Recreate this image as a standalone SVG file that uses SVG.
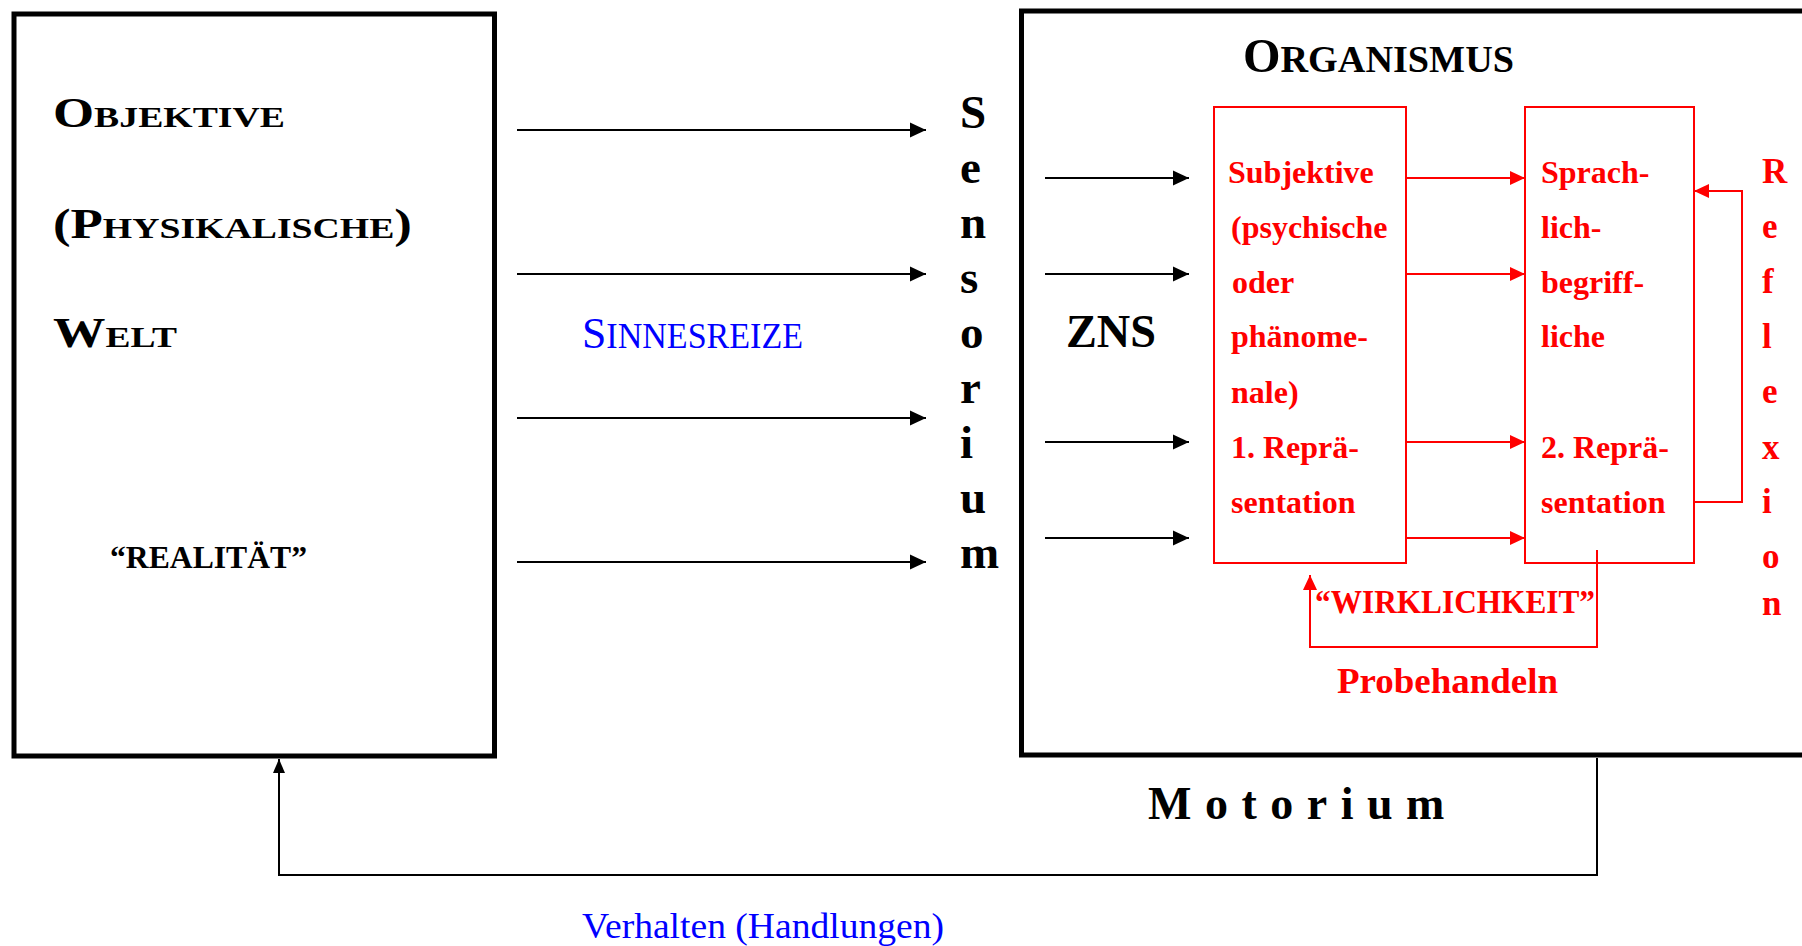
<svg xmlns="http://www.w3.org/2000/svg" width="1802" height="946" viewBox="0 0 1802 946">
<style>
text{font-family:"Liberation Serif","Times New Roman",serif;}
.b{font-weight:bold;}
.blk{fill:#000;}
.red{fill:#ff0000;}
.blue{fill:#0000ff;}
.frame{fill:none;stroke:#000;stroke-width:5;}
.rbox{fill:none;stroke:#ff0000;stroke-width:2;}
.la{fill:none;stroke:#000;stroke-width:2;}
.ra{fill:none;stroke:#ff0000;stroke-width:2;}
.rt{font-size:32px;font-weight:bold;fill:#ff0000;}
.sens{font-size:47px;font-weight:bold;fill:#000;}
.refl{font-size:35px;font-weight:bold;fill:#ff0000;}
</style>
<defs>
<marker id="ab" markerUnits="userSpaceOnUse" markerWidth="16" markerHeight="16" refX="16" refY="8" orient="auto"><path d="M0,0.5 L16,8 L0,15.5 z" fill="#000"/></marker>
<marker id="ar" markerUnits="userSpaceOnUse" markerWidth="15" markerHeight="15" refX="15" refY="7.5" orient="auto"><path d="M0,0.5 L15,7.5 L0,14.5 z" fill="#ff0000"/></marker>
<marker id="abs" markerUnits="userSpaceOnUse" markerWidth="14" markerHeight="14" refX="14" refY="7" orient="auto"><path d="M0,1 L14,7 L0,13 z" fill="#000"/></marker>
</defs>

<g id="welt">
<rect class="frame" x="14" y="14" width="480.5" height="742"/>
<text class="b blk" x="53" y="127" textLength="232" lengthAdjust="spacingAndGlyphs"><tspan font-size="42">O</tspan><tspan font-size="30">BJEKTIVE</tspan></text>
<text class="b blk" x="53" y="238" textLength="359" lengthAdjust="spacingAndGlyphs"><tspan font-size="42">(P</tspan><tspan font-size="30">HYSIKALISCHE</tspan><tspan font-size="42">)</tspan></text>
<text class="b blk" x="53" y="347" textLength="124" lengthAdjust="spacingAndGlyphs"><tspan font-size="42">W</tspan><tspan font-size="30">ELT</tspan></text>
<text class="b blk" x="110" y="568" font-size="32" textLength="197" lengthAdjust="spacingAndGlyphs">“REALITÄT”</text>
</g>

<g id="sinnesreize">
<text class="blue" x="582" y="348" textLength="221" lengthAdjust="spacingAndGlyphs"><tspan font-size="45">S</tspan><tspan font-size="35">INNESREIZE</tspan></text>
</g>

<g id="sensorium">
<text class="sens" x="960" y="128">S</text>
<text class="sens" x="960" y="183">e</text>
<text class="sens" x="960" y="238">n</text>
<text class="sens" x="960" y="293">s</text>
<text class="sens" x="960" y="348">o</text>
<text class="sens" x="960" y="403">r</text>
<text class="sens" x="960" y="458">i</text>
<text class="sens" x="960" y="513">u</text>
<text class="sens" x="960" y="568">m</text>
</g>

<g id="organismus">
<path class="frame" d="M1806,11 H1021.5 V755 H1806"/>
<text class="b blk" x="1243" y="72" textLength="271" lengthAdjust="spacingAndGlyphs"><tspan font-size="48">O</tspan><tspan font-size="38">RGANISMUS</tspan></text>
<text class="b blk" x="1066" y="347" font-size="47" textLength="90" lengthAdjust="spacingAndGlyphs">ZNS</text>
</g>

<g id="repraesentation1">
<rect class="rbox" x="1214" y="107" width="192" height="456"/>
<text class="rt" x="1228" y="183">Subjektive</text>
<text class="rt" x="1231" y="238">(psychische</text>
<text class="rt" x="1232" y="293">oder</text>
<text class="rt" x="1231" y="347">phänome-</text>
<text class="rt" x="1231" y="403">nale)</text>
<text class="rt" x="1231" y="458">1. Reprä-</text>
<text class="rt" x="1231" y="513">sentation</text>
</g>

<g id="repraesentation2">
<rect class="rbox" x="1525" y="107" width="169" height="456"/>
<text class="rt" x="1541" y="183">Sprach-</text>
<text class="rt" x="1541" y="238">lich-</text>
<text class="rt" x="1541" y="293">begriff-</text>
<text class="rt" x="1541" y="347">liche</text>
<text class="rt" x="1541" y="458">2. Reprä-</text>
<text class="rt" x="1541" y="513">sentation</text>
</g>

<g id="reflexion">
<text class="refl" x="1762" y="183">R</text>
<text class="refl" x="1762" y="238">e</text>
<text class="refl" x="1762" y="293">f</text>
<text class="refl" x="1762" y="348">l</text>
<text class="refl" x="1762" y="403">e</text>
<text class="refl" x="1762" y="459">x</text>
<text class="refl" x="1762" y="513">i</text>
<text class="refl" x="1762" y="568">o</text>
<text class="refl" x="1762" y="615">n</text>
</g>

<g id="wirklichkeit">
<text class="b red" x="1315" y="613" font-size="33" textLength="280" lengthAdjust="spacingAndGlyphs">“WIRKLICHKEIT”</text>
<text class="b red" x="1337" y="693" font-size="35" textLength="221" lengthAdjust="spacingAndGlyphs">Probehandeln</text>
</g>

<g id="motorium">
<text class="b blk" x="1148" y="819" font-size="46" letter-spacing="13.5">Motorium</text>
<text class="blue" x="582" y="938" font-size="35" textLength="362" lengthAdjust="spacingAndGlyphs">Verhalten (Handlungen)</text>
</g>

<g id="connectors">
<line class="la" x1="517" y1="130" x2="926" y2="130" marker-end="url(#ab)"/>
<line class="la" x1="517" y1="274" x2="926" y2="274" marker-end="url(#ab)"/>
<line class="la" x1="517" y1="418" x2="926" y2="418" marker-end="url(#ab)"/>
<line class="la" x1="517" y1="562" x2="926" y2="562" marker-end="url(#ab)"/>
<line class="la" x1="1045" y1="178" x2="1189" y2="178" marker-end="url(#ab)"/>
<line class="la" x1="1045" y1="274" x2="1189" y2="274" marker-end="url(#ab)"/>
<line class="la" x1="1045" y1="442" x2="1189" y2="442" marker-end="url(#ab)"/>
<line class="la" x1="1045" y1="538" x2="1189" y2="538" marker-end="url(#ab)"/>
<line class="ra" x1="1406" y1="178" x2="1525" y2="178" marker-end="url(#ar)"/>
<line class="ra" x1="1406" y1="274" x2="1525" y2="274" marker-end="url(#ar)"/>
<line class="ra" x1="1406" y1="442" x2="1525" y2="442" marker-end="url(#ar)"/>
<line class="ra" x1="1406" y1="538" x2="1525" y2="538" marker-end="url(#ar)"/>
<path class="ra" d="M1694,502 H1742 V191 H1694" marker-end="url(#ar)"/>
<path class="ra" d="M1597,550 V647 H1310 V575" marker-end="url(#ar)"/>
<path class="la" d="M1597,758 V875 H279 V759" marker-end="url(#abs)"/>
</g>
</svg>
